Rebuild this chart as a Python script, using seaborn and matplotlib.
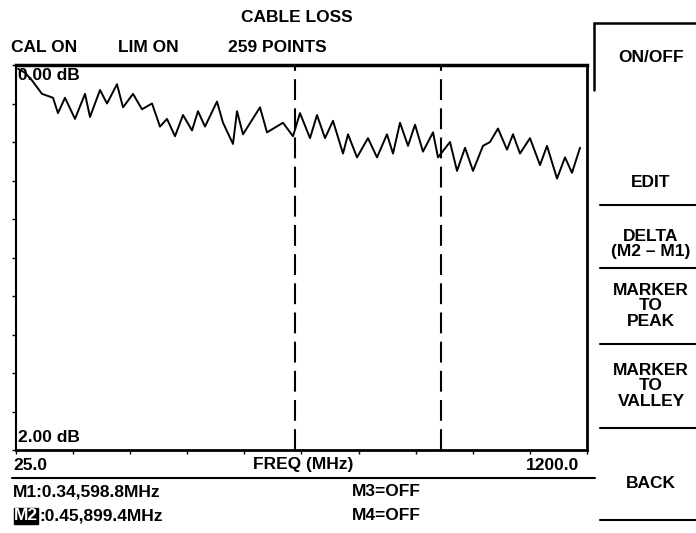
import matplotlib
matplotlib.use("Agg")
import matplotlib.pyplot as plt
from matplotlib.lines import Line2D
import seaborn as sns
import pandas as pd

# Trace (cable loss vs frequency)
freq_mhz = [29.1, 43.5, 57.9, 78.5, 101.1, 111.4, 125.8, 146.4, 167.0, 177.3,
            197.9, 212.3, 232.8, 245.2, 265.8, 284.3, 304.9, 321.3, 335.7, 352.2,
            368.7, 387.2, 399.5, 413.9, 438.6, 451.0, 471.5, 479.8, 492.1, 527.1,
            541.5, 574.4, 595.0, 609.4, 630.0, 644.4, 660.9, 677.3, 697.9, 708.2,
            726.7, 749.3, 767.9, 788.4, 800.8, 815.2, 831.7, 846.1, 862.5, 883.1,
            893.4, 918.1, 932.5, 949.0, 965.4, 986.0, 1000.4, 1016.8, 1035.4, 1047.7,
            1062.1, 1082.7, 1103.3, 1117.7, 1138.3, 1154.7, 1169.1, 1185.6]
loss_db = [0.02, 0.04, 0.08, 0.15, 0.17, 0.25, 0.17, 0.28, 0.15, 0.27,
           0.13, 0.20, 0.10, 0.22, 0.15, 0.23, 0.20, 0.32, 0.28, 0.37,
           0.26, 0.34, 0.24, 0.32, 0.19, 0.30, 0.41, 0.24, 0.36, 0.22,
           0.35, 0.30, 0.37, 0.25, 0.38, 0.26, 0.38, 0.29, 0.46, 0.36,
           0.48, 0.38, 0.48, 0.36, 0.46, 0.30, 0.42, 0.31, 0.45, 0.35,
           0.48, 0.40, 0.55, 0.43, 0.55, 0.42, 0.40, 0.33, 0.44, 0.36,
           0.46, 0.38, 0.52, 0.42, 0.59, 0.48, 0.56, 0.43]

markers_mhz = [598.8, 899.4]
menu_labels = ["ON/OFF", "EDIT", "DELTA\n(M2 \u2013 M1)", "MARKER\nTO\nPEAK",
               "MARKER\nTO\nVALLEY", "BACK"]
menu_y = [57, 182, 244, 306, 386, 483]
menu_lines_y = [205, 268, 344, 428, 520]

W, H = 696, 533
sns.set_style("white")
plt.rcParams['font.family'] = ['Liberation Sans', 'DejaVu Sans']
fig = plt.figure(figsize=(W / 100, H / 100), dpi=100)


def px(x, y):
    return x / W, 1 - y / H


ax = fig.add_axes([16 / W, 1 - 450 / H, (587 - 16) / W, (450 - 65) / H])
df = pd.DataFrame({"freq": freq_mhz, "loss": loss_db})
sns.lineplot(data=df, x="freq", y="loss", ax=ax, color="black", linewidth=1.4)

for m in markers_mhz:
    ax.axvline(m, color="black", linewidth=1.5, linestyle=(0, (10, 4)))

ax.set_xlim(25, 1200)
ax.set_ylim(2.0, 0.0)
ax.set_xticks([25 + i * 117.5 for i in range(11)])
ax.set_yticks([i * 0.2 for i in range(11)])
ax.set_xticklabels([])
ax.set_yticklabels([])
ax.tick_params(direction="out", length=3, width=1, colors="black",
               bottom=True, left=True)
ax.set_xlabel("")
ax.set_ylabel("")
for side, lw in [("top", 2.5), ("bottom", 2.0), ("left", 1.5), ("right", 2.0)]:
    ax.spines[side].set_linewidth(lw)
    ax.spines[side].set_color("black")

fs = 12.5
txt = dict(color="black", fontsize=fs, va="center", fontweight="bold")
fig.text(*px(297, 18), "CABLE LOSS", ha="center", **txt)
fig.text(*px(11, 48), "CAL ON", ha="left", **txt)
fig.text(*px(118, 48), "LIM ON", ha="left", **txt)
fig.text(*px(228, 48), "259 POINTS", ha="left", **txt)
fig.text(*px(18, 75), "0.00 dB", ha="left", **txt)
fig.text(*px(18, 437), "2.00 dB", ha="left", **txt)
fig.text(*px(13, 465), "25.0", ha="left", **txt)
fig.text(*px(303, 465), "FREQ (MHz)", ha="center", **txt)
fig.text(*px(579, 465), "1200.0", ha="right", **txt)
fig.text(*px(13, 492), "M1:0.34,598.8MHz", ha="left", **txt)
fig.text(*px(352, 492), "M3=OFF", ha="left", **txt)
fig.text(*px(14, 516), "M2", ha="left", color="white", fontsize=fs, va="center",
         fontweight="bold", bbox=dict(facecolor="black", edgecolor="black", pad=0.3))
fig.text(*px(39, 516), ":0.45,899.4MHz", ha="left", **txt)
fig.text(*px(352, 516), "M4=OFF", ha="left", **txt)

# separator under the frequency labels
fig.add_artist(Line2D([12 / W, 595 / W], [1 - 478 / H] * 2, color="black",
                      linewidth=1.5, transform=fig.transFigure))

# soft-key menu on the right
fig.add_artist(Line2D([594 / W, 696 / W], [1 - 23 / H] * 2, color="black",
                      linewidth=1.8, transform=fig.transFigure))
fig.add_artist(Line2D([594 / W] * 2, [1 - 23 / H, 1 - 90 / H], color="black",
                      linewidth=1.8, transform=fig.transFigure))
for y in menu_lines_y:
    fig.add_artist(Line2D([600 / W, 696 / W], [1 - y / H] * 2, color="black",
                          linewidth=1.5, transform=fig.transFigure))
for label, y in zip(menu_labels, menu_y):
    fig.text(*px(651, y), label, ha="center", va="center", color="black",
             fontsize=fs, fontweight="bold", linespacing=1.05)

fig.savefig("out.png", dpi=100)
